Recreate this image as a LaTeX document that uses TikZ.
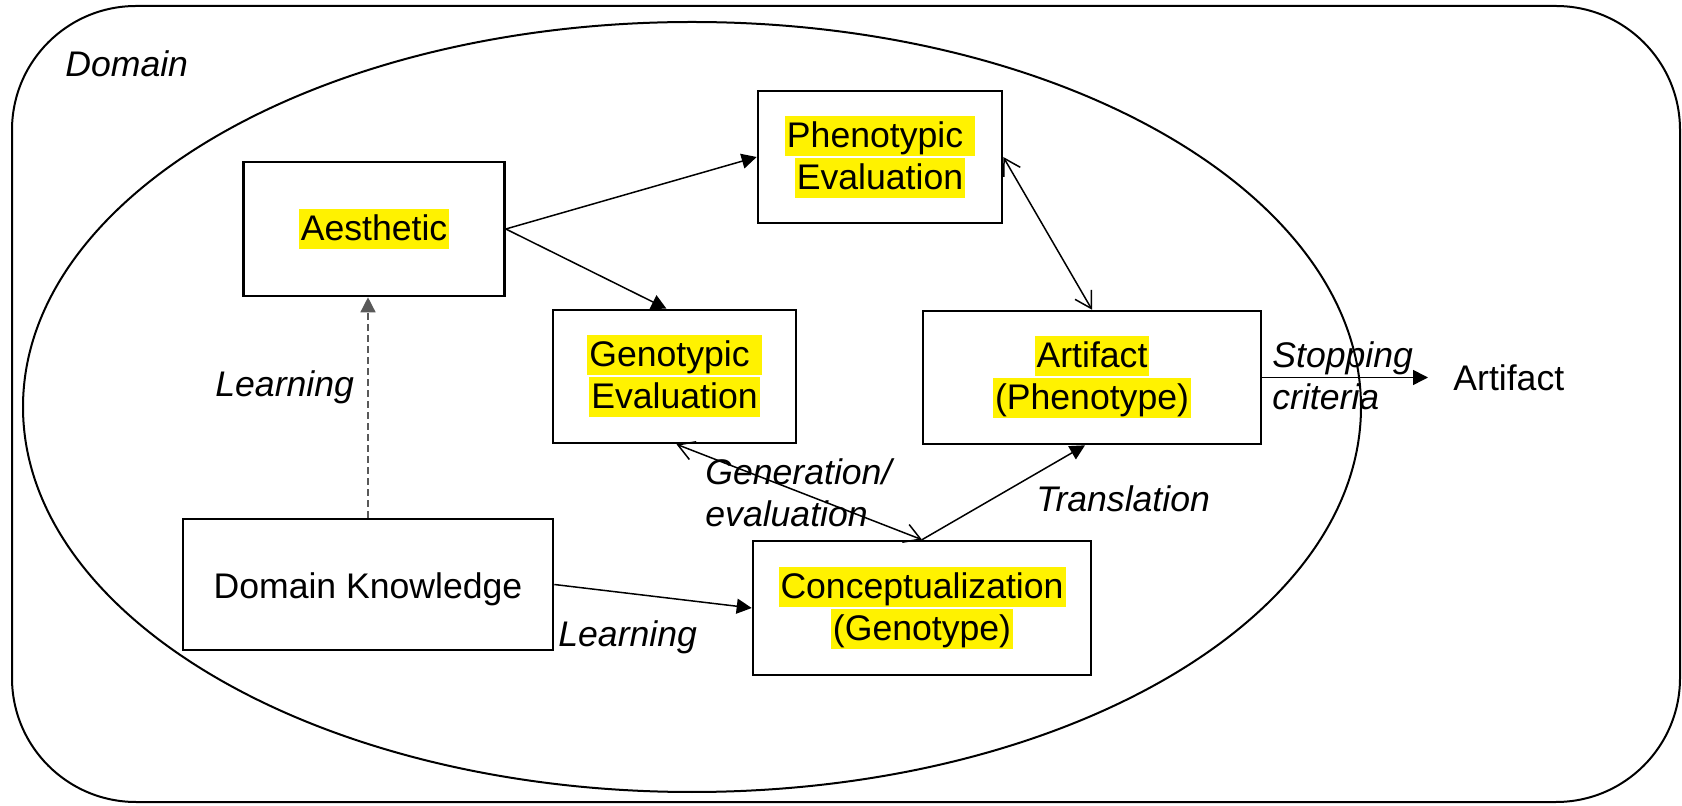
\documentclass[tikz,border=0pt]{standalone}
\usepackage{fontspec}
\setmainfont{Liberation Sans}
\usetikzlibrary{arrows.meta,calc}
\newcommand\hlt[1]{{\setlength{\fboxsep}{0pt}\colorbox{yellow}{\rule[-4.4pt]{0pt}{20pt}\hspace{1pt}#1\hspace{1pt}}}}
\begin{document}
\begin{tikzpicture}[x=0.5pt,y=-0.5pt,
  txt/.style={font=\fontsize{17.8}{21}\selectfont},
  box/.style={draw,line width=1.3pt,rectangle,inner sep=0pt,align=center,txt},
  lbl/.style={inner sep=0pt,anchor=base west,align=left,font=\fontsize{17.8}{21}\selectfont\itshape},
  edge/.style={line width=0.75pt},
  tri/.style={edge,-{Triangle[length=7.5pt,width=7.5pt]}},
  barbs/.style={edge,{Straight Barb[length=8pt,width=9.5pt]}-{Straight Barb[length=8pt,width=9.5pt]}},
  dashedge/.style={line width=0.7pt,draw=black!65,dash pattern=on 3.5pt off 2pt,-{Triangle[length=7.5pt,width=7.5pt]}}
]
\useasboundingbox (0,0) rectangle (1682,806);
% domain frame and ellipse
\draw[line width=1pt,rounded corners=62pt] (12,6) rectangle (1680,802);
\draw[line width=1pt] (692,407) ellipse [x radius=334.5pt, y radius=192.5pt];
\node[lbl] (domain) at (65,77) {Domain};
% boxes
\node[box,minimum width=130.5pt,minimum height=67pt] (aes) at (374,229) {\hlt{Aesthetic}};
\node[box,minimum width=122pt,minimum height=66pt] (phen) at (880,157) {\hlt{Phenotypic\ }\\\hlt{Evaluation}};
\node[box,minimum width=121.5pt,minimum height=66.5pt] (gen) at (674.5,376.5) {\hlt{Genotypic\ }\\\hlt{Evaluation}};
\node[box,minimum width=169pt,minimum height=66.5pt] (art) at (1092,377.5) {\hlt{Artifact}\\\hlt{(Phenotype)}};
\node[box,minimum width=185pt,minimum height=65.5pt] (dk) at (368,584.5) {\rule[-2pt]{0pt}{19.5pt}Domain Knowledge};
\node[box,minimum width=169pt,minimum height=67pt] (con) at (922,608) {\hlt{Conceptualization}\\\hlt{(Genotype)}};
\node[txt,anchor=west,inner ysep=0pt,inner xsep=12.5pt] (artout) at (1428,377.5) {Artifact};
% labels
\node[lbl] (learn1) at (215,397) {Learning};
\node[lbl] (learn2) at (558,647) {Learning};
\node[lbl] (gen-eval) at (705,527) {Generation/\\evaluation};
\node[lbl] (transl) at (1036,512) {Translation};
\node[lbl] (stop) at (1272,410) {Stopping\\criteria};
% connectors
\draw[tri] (aes.east) -- (phen.west);
\draw[tri] (aes.east) -- ([xshift=-4pt]gen.north);
\draw[barbs] (phen.east) -- (art.north);
\draw[dashedge] (dk.north) -- (dk.north |- aes.south);
\draw[tri] (dk.east) -- (con.west);
\draw[tri] (con.north) -- ([xshift=-3.5pt]art.south);
\draw[barbs] (con.north) -- ([xshift=1pt]gen.south);
\draw[tri] (art.east) -- (artout.west);
\end{tikzpicture}
\end{document}
